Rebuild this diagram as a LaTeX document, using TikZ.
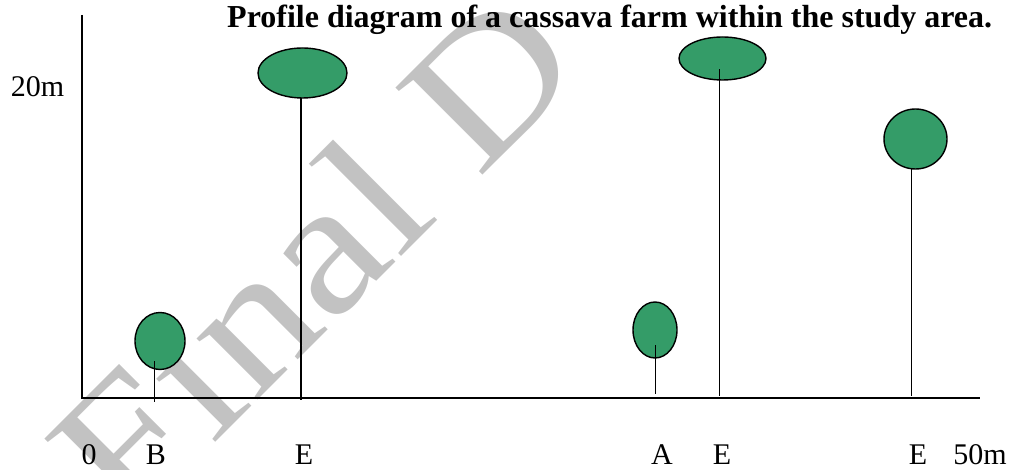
\documentclass[tikz,border=0pt]{standalone}
\usepackage{fontspec}
\usepackage{graphicx}
\setmainfont{Liberation Serif}
\usetikzlibrary{shapes.geometric}
\definecolor{leaf}{RGB}{52,156,104}
\begin{document}
\begin{tikzpicture}[x=1pt,y=1pt,
  crown/.style={ellipse,draw=black,line width=1.4pt,fill=leaf,inner sep=0pt},
  trunk/.style={line width=1.25pt},
  axisline/.style={line width=1.3pt},
  lbl/.style={font=\fontsize{30}{34}\selectfont,anchor=base,inner sep=0pt}]
\useasboundingbox (0,0) rectangle (1011,470);
% background watermark
\begin{scope}
\clip (0,0) rectangle (1011,470);
\node[anchor=base west,rotate=45,inner sep=0pt,text=black!24,
      font=\fontsize{188}{230}\selectfont] (wm) at (127.5,-60.5)
      {\scalebox{1.144}[1]{Final D}};
\end{scope}
% axes
\coordinate (O) at (82,72);
\coordinate (ytop) at (82,455);
\coordinate (xend) at (980,72);
\draw[axisline] (ytop) -- (O) -- (xend);
% title
\node[anchor=base west,inner sep=0pt,font=\bfseries\fontsize{32}{36}\selectfont] (title) at (227,442)
  {Profile diagram of a cassava farm within the study area.};
\node[lbl] (h20) at (37.5,373) {20m};
% crowns
\node[crown,minimum width=50pt,minimum height=57pt] (cB) at (160,129) {};
\node[crown,minimum width=89pt,minimum height=50pt] (cE1) at (302.5,397) {};
\node[crown,minimum width=44pt,minimum height=56pt] (cA) at (655,140) {};
\node[crown,minimum width=87pt,minimum height=43pt] (cE2) at (722.5,411.5) {};
\node[crown,minimum width=63pt,minimum height=60pt] (cE3) at (915.5,331) {};
% trunks
\coordinate (bB) at (154.5,68);   \coordinate (tB) at (154.5,109);
\coordinate (bE1) at (301,70);    \coordinate (tE1) at (301,372);
\coordinate (bA) at (655.7,76);   \coordinate (tA) at (655.7,125);
\coordinate (bE2) at (719.7,74);  \coordinate (tE2) at (719.7,401);
\coordinate (bE3) at (911.7,74);  \coordinate (tE3) at (911.7,302);
\draw[trunk] (bB) -- (tB);
\draw[trunk] (bE1) -- (tE1);
\draw[trunk] (bA) -- (tA);
\draw[trunk] (bE2) -- (tE2);
\draw[trunk] (bE3) -- (tE3);
% ground labels
\node[lbl] (l0) at (89,5) {0};
\node[lbl] (lB) at (156,5) {B};
\node[lbl] (lE1) at (304,5) {E};
\node[lbl] (lA) at (662,5) {A};
\node[lbl] (lE2) at (722,5) {E};
\node[lbl] (lE3) at (918,5) {E};
\node[lbl] (l50) at (980,5) {50m};
\end{tikzpicture}
\end{document}
